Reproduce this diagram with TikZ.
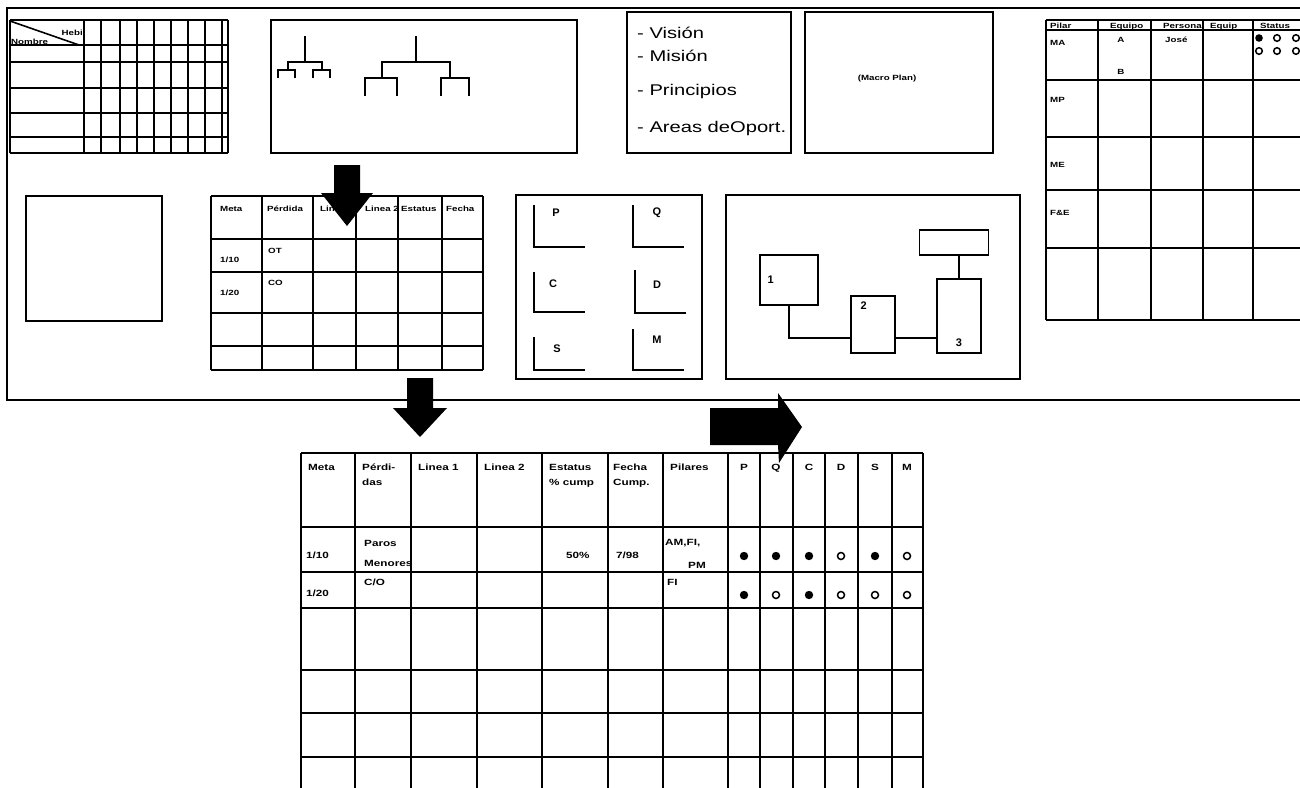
\documentclass[tikz,border=0pt]{standalone}
\usepackage{fontspec}
\setmainfont{Liberation Sans}
\newfontfamily\widesf[FakeStretch=1.3]{Liberation Sans}
\usetikzlibrary{positioning,calc}

\begin{document}
\begin{tikzpicture}[x=1pt, y=-1pt,
    frame/.style={line width=1.9pt},
    rule/.style={line width=1.6pt},
    hair/.style={line width=1.2pt},
    box/.style={draw=black, line width=1.6pt},
    stepbox/.style={draw=black, line width=1.4pt, inner sep=0pt},
    link/.style={line width=1.2pt},
    tiny/.style={font=\widesf\bfseries\fontsize{7.5}{8}\selectfont, inner sep=0pt},
    small/.style={font=\widesf\bfseries\fontsize{9}{15}\selectfont, inner sep=0pt, align=left},
    big/.style={font=\widesf\fontsize{15.5}{18}\selectfont, inner sep=0pt, anchor=west},
    num/.style={font=\bfseries\fontsize{11}{12}\selectfont, inner sep=0pt},
    full/.style={fill=black},
    hollow/.style={draw=black, line width=1.5pt, fill=white}
  ]
  \useasboundingbox (0,0) rectangle (1300,787);
  \fill[white] (0,0) rectangle (1300,787);
  \clip (0,0) rectangle (1300,787);

  % board frame
  \draw[frame] (1310,8) -- (7,8) -- (7,400) -- (1310,400);

  % skills grid
  \foreach \y in {20,45,62,88,113,137,153}
    \draw[rule] (10,\y) -- (228,\y);
  \foreach \x in {10,84,101,120,137,154,171,188,205,222,228}
    \draw[rule] (\x,20) -- (\x,153);
  \draw[rule] (10,21) -- (79,45);
  \node[tiny, anchor=south east] (hebi) at (83,36) {Hebi};
  \node[tiny, anchor=south west] (nombre) at (11,45) {Nombre};

  % organisation chart
  \draw[box] (271,20) rectangle (577,153);
  \foreach \cx/\ya/\yb/\xl/\xr/\yc in {305/36/62/288/322/70, 288/62/70/278/295/78,
      322/62/70/313/330/78, 416/36/62/382/450/78, 382/62/78/365/397/96,
      450/62/78/441/469/96}
    \draw[rule] (\cx,\ya) -- (\cx,\yb) (\xl,\yc) -- (\xl,\yb) -- (\xr,\yb) -- (\xr,\yc);

  % vision / mission
  \draw[box] (627,12) rectangle (791,153);
  \node[big] (vision) at (637,33) {- Visión};
  \node[big] (mision) at (637,56) {- Misión};
  \node[big] (princ) at (637,91) {- Principios};
  \node[big] (areas) at (637,128) {- Areas deOport.};

  % macro plan
  \draw[box] (805,12) rectangle (993,153);
  \node[tiny] (macro) at (887,79) {(Macro Plan)};

  % pillar table
  \foreach \y in {20,30,80,137,190,248,320}
    \draw[rule] (1046,\y) -- (1310,\y);
  \foreach \x in {1046,1098,1151,1203,1253}
    \draw[rule] (\x,20) -- (\x,320);
  \foreach \x/\txt in {1050/Pilar,1110/Equipo,1163/Persona,1210/Equip,1260/Status}
    \node[tiny, anchor=base west] (ph\x) at (\x,28) {\txt};
  \foreach \y/\txt in {43/MA,100/MP,165/ME,213/F\&E}
    \node[tiny, anchor=west] (pr\y) at (1050,\y) {\txt};
  \node[tiny] (eqa) at (1121,40) {A};
  \node[tiny] (eqb) at (1121,72) {B};
  \node[tiny, anchor=west] (jose) at (1165,40) {José};
  \fill[full] (1259,38) circle (3.8);
  \foreach \x/\y in {1277/38,1296/38,1259/51,1277/51,1296/51}
    \draw[hollow] (\x,\y) circle (3.3);

  % empty panel
  \draw[box] (26,196) rectangle (162,321);

  % small goal table
  \foreach \y in {196,239,272,313,346,370}
    \draw[rule] (211,\y) -- (483,\y);
  \foreach \x in {211,262,313,356,398,442,483}
    \draw[rule] (\x,196) -- (\x,370);
  \foreach \x/\txt in {220/Meta,267/Pérdida,320/Linea 1,365/Linea 2,401/Estatus,446/Fecha}
    \node[tiny, anchor=west] (mh\x) at (\x,209) {\txt};
  \node[tiny, anchor=west] (m110) at (220,260) {1/10};
  \node[tiny, anchor=west] (mot) at (268,251) {OT};
  \node[tiny, anchor=west] (m120) at (220,293) {1/20};
  \node[tiny, anchor=west] (mco) at (268,283) {CO};

  % PQCDSM panel
  \draw[box] (516,195) rectangle (702,379);
  \foreach \nm/\x/\ya/\yb/\lx/\ly in {P/534/205/247/556/213, Q/633/205/247/657/213,
      C/534/272/312/553/284, D/635/270/313/657/285, S/534/337/370/557/349,
      M/633/329/370/657/340}{
    \draw[rule] (\x,\ya) |- (\x+51,\yb);
    \node[num] (pil\nm) at (\lx,\ly) {\nm};
  }

  % process flow panel
  \draw[box] (726,195) rectangle (1020,379);
  \node[stepbox, minimum width=58pt, minimum height=50pt] (n1) at (789,280) {};
  \node[stepbox, minimum width=44pt, minimum height=57pt] (n2) at (873,324.5) {};
  \node[stepbox, minimum width=44pt, minimum height=74pt] (n3) at (959,316) {};
  \node[stepbox, minimum width=69pt, minimum height=25pt] (n0) at (954,242.5) {};
  \node[num, right=8pt of n1.west] (t1) {1};
  \node[num, below right=6pt and 10pt of n2.north west] (t2) {2};
  \node[num, above=7pt of n3.south] (t3) {3};
  \coordinate (jn) at (0,338);
  \draw[link] (n1.south) |- (n2.west |- jn);
  \draw[link] (n2.east |- jn) -- (n3.west |- jn);
  \draw[link] (n0.south -| n3.north) -- (n3.north);

  % detailed goal table
  \foreach \y in {453,572,608,670,713,757}
    \draw[hair] (301,\y) -- (923,\y);
  \draw[line width=2.6pt] (301,527) -- (923,527);
  \foreach \x in {301,355,411,477,542,608,663,728,760,793,825,858,892,923}
    \draw[hair] (\x,453) -- (\x,790);
  \foreach \x/\txt in {308/Meta,362/Pérdi-\\das,418/Linea 1,484/Linea 2,
      549/Estatus\\\% cump,613/Fecha\\Cump.,670/Pilares}
    \node[small, anchor=north west] (bh\x) at (\x,464) {\txt};
  \foreach \x/\txt in {744/P,776/Q,809/C,841/D,875/S,907/M}
    \node[small, anchor=north] (bp\txt) at (\x,464) {\txt};
  \node[small, anchor=west] (b110) at (306,555) {1/10};
  \node[small, anchor=west] (bparos) at (364,543) {Paros};
  \node[small, anchor=west] (bmen) at (364,563) {Menores};
  \node[small, anchor=west] (b50) at (566,555) {50\%};
  \node[small, anchor=west] (b798) at (616,555) {7/98};
  \node[small, anchor=west] (bam) at (665,543) {AM,FI,};
  \node[small, anchor=west] (bpm) at (688,565) {PM};
  \node[small, anchor=west] (b120) at (306,593) {1/20};
  \node[small, anchor=west] (bco) at (364,582) {C/O};
  \node[small, anchor=west] (bfi) at (667,582) {FI};
  % pillar marks, 1 = full, 0 = hollow
  \foreach \x/\a/\b in {744/1/1,776/1/0,809/1/1,841/0/0,875/1/0,907/0/0}{
    \ifnum\a=1 \fill[full] (\x,556) circle (4.2); \else \draw[hollow] (\x,556) circle (3.5); \fi
    \ifnum\b=1 \fill[full] (\x,595) circle (4.2); \else \draw[hollow] (\x,595) circle (3.5); \fi
  }

  % block arrows
  \fill (334,165) -- (360,165) -- (360,193) -- (373,193) -- (347,226) -- (321,193)
    -- (334,193) -- cycle;
  \fill (407,378) -- (433,378) -- (433,408) -- (447,408) -- (420,437) -- (393,408)
    -- (407,408) -- cycle;
  \fill (710,408) -- (778,408) -- (778,393) -- (802,427) -- (779,463) -- (778,445)
    -- (710,445) -- cycle;
\end{tikzpicture}
\end{document}
